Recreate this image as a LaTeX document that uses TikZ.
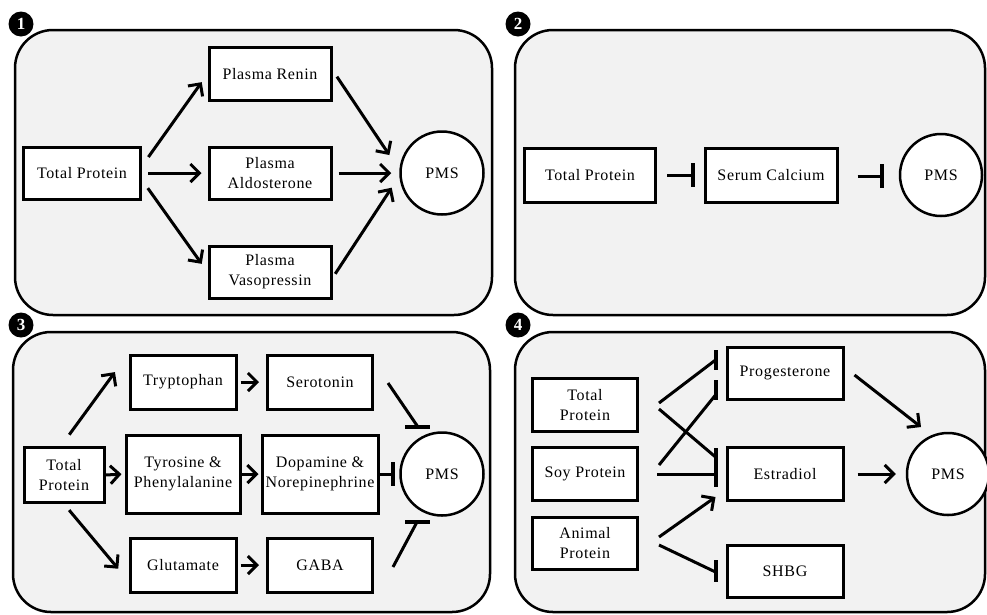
\documentclass[tikz,border=0pt]{standalone}
\usepackage{fontspec}
\setmainfont[LetterSpace=4]{Liberation Serif}
\usetikzlibrary{arrows.meta,calc}

\tikzset{
  panel/.style={draw=black, line width=2.5pt, fill=black!5, rounded corners=38pt},
  boxnode/.style={draw=black, line width=3pt, fill=white, rectangle, align=center,
                  inner sep=0pt, font=\fontsize{16}{20}\selectfont},
  pmsnode/.style={draw=black, line width=2.5pt, fill=white, circle, inner sep=0pt,
                  minimum size=83pt, font=\fontsize{16}{20}\selectfont},
  marker/.style={circle, fill=black, inner sep=0pt, minimum size=25pt, text=white,
                 font=\fontsize{17}{17}\selectfont\bfseries},
  arr/.style={line width=3pt, -{Straight Barb[length=9pt, width=18pt, line width=3pt]}},
  inh/.style={line width=3pt, -{Bar[width=24pt, line width=4pt]}},
  link/.style={line width=3pt},
  tbar/.style={line width=4pt}
}

\begin{document}
\begin{tikzpicture}[x=1pt, y=-1pt]
\useasboundingbox (0,0) rectangle (987,614);

% ---- panel frames
\draw[panel] (15,30) rectangle (492,315);
\draw[panel] (515,30) rectangle (985,315);
\draw[panel] (13,332) rectangle (490,612);
\draw[panel] (515,332) rectangle (985,612);

\node[marker] (m1) at (21,24) {1};
\node[marker] (m2) at (518,24) {2};
\node[marker] (m3) at (21,325) {3};
\node[marker] (m4) at (518,325) {4};

% ---- panel 1: renin / aldosterone / vasopressin
\node[boxnode, minimum width=117pt, minimum height=52pt] (tpA) at (82,173) {Total Protein};
\node[boxnode, minimum width=122pt, minimum height=53pt] (renin) at (270,74) {Plasma Renin};
\node[boxnode, minimum width=122pt, minimum height=52pt] (aldo) at (270,173) {Plasma\\Aldosterone};
\node[boxnode, minimum width=122pt, minimum height=52pt] (vaso) at (270,272) {Plasma\\Vasopressin};
\node[pmsnode] (pmsA) at (442,173) {PMS};

\draw[arr, shorten <=11pt, shorten >=10pt] ($(tpA.east)+(0,-7)$) -- (renin.west);
\draw[arr, shorten <=6pt, shorten >=6pt] (tpA.east) -- (aldo.west);
\draw[arr, shorten <=10pt, shorten >=10pt] ($(tpA.east)+(0,7)$) -- (vaso.west);
\draw[arr, shorten <=8pt, shorten >=18pt] ($(renin.east)+(0,-4)$) -- (pmsA.176);
\draw[arr, shorten <=6pt, shorten >=8pt] (aldo.east) -- (pmsA.west);
\draw[arr, shorten <=5pt, shorten >=14pt] ($(vaso.east)+(0,6)$) -- (pmsA.184);

% ---- panel 2: serum calcium
\node[boxnode, minimum width=131pt, minimum height=54pt] (tpB) at (590,175) {Total Protein};
\node[boxnode, minimum width=132pt, minimum height=54pt] (calc) at (771,175) {Serum Calcium};
\node[pmsnode, minimum size=82pt] (pmsB) at (941,175) {PMS};

\draw[inh, shorten <=10pt, shorten >=9pt] (tpB.east) -- (calc.west);
\draw[inh, shorten <=19pt, shorten >=15pt] ($(calc.east)+(0,1)$) -- ($(pmsB.west)+(0,1)$);

% ---- panel 3: amino acids and neurotransmitters
\node[boxnode, minimum width=80pt, minimum height=55pt] (tpC) at (64,475) {Total\\Protein};
\node[boxnode, minimum width=106pt, minimum height=54pt] (tryp) at (183,382) {Tryptophan};
\node[boxnode, minimum width=105pt, minimum height=54pt] (sero) at (320,382) {Serotonin};
\node[boxnode, minimum width=114pt, minimum height=78pt] (tyro) at (183,474) {Tyrosine \&\\Phenylalanine};
\node[boxnode, minimum width=116pt, minimum height=78pt] (dopa) at (320,474) {Dopamine \&\\Norepinephrine};
\node[boxnode, minimum width=106pt, minimum height=54pt] (glut) at (183,565) {Glutamate};
\node[boxnode, minimum width=105pt, minimum height=54pt] (gaba) at (320,565) {GABA};
\node[pmsnode] (pmsC) at (442,474) {PMS};

\draw[arr, shorten <=14pt, shorten >=23pt] ($(tpC.north)+(-3,0)$) -- (tryp.north west);
\draw[arr, shorten >=3pt] (tpC.east) -- (tyro.west);
\draw[arr, shorten <=8pt, shorten >=16pt] (tpC.south) -- ($(glut.west)+(0,16)$);
\draw[arr, shorten <=3pt, shorten >=7pt] (tryp.east) -- (sero.west);
\draw[arr, shorten >=2pt] (tyro.east) -- (dopa.west);
\draw[arr, shorten <=3pt, shorten >=7pt] (glut.east) -- (gaba.west);

\coordinate (barS) at ($(pmsC.center)+(-24,-47)$);
\coordinate (barG) at ($(pmsC.center)+(-25,48)$);
\draw[link] ($(sero.east)+(14,1)$) -- (barS);
\draw[tbar] ($(barS)+(-13,0)$) -- ($(barS)+(12,0)$);
\draw[inh, shorten >=4pt] (dopa.east) -- (pmsC.west);
\draw[link] ($(gaba.east)+(19,2)$) -- (barG);
\draw[tbar] ($(barG)+(-12,0)$) -- ($(barG)+(13,0)$);

% ---- panel 4: protein sources and sex hormones
\node[boxnode, minimum width=105pt, minimum height=53pt] (tpD) at (585,405) {Total\\Protein};
\node[boxnode, minimum width=105pt, minimum height=53pt] (soy) at (585,474) {Soy Protein};
\node[boxnode, minimum width=105pt, minimum height=52pt] (ani) at (585,543) {Animal\\Protein};
\node[boxnode, minimum width=116pt, minimum height=52pt] (prog) at (785,373) {Progesterone};
\node[boxnode, minimum width=116pt, minimum height=53pt] (estr) at (785,474) {Estradiol};
\node[boxnode, minimum width=116pt, minimum height=52pt] (shbg) at (785,571) {SHBG};
\node[pmsnode, minimum size=82pt] (pmsD) at (948,474) {PMS};

% inhibition ends, each on a vertical bar in front of its target
\coordinate (pTop) at ($(prog.west)+(-10,-13)$);
\coordinate (pBot) at ($(prog.west)+(-10,22)$);
\coordinate (eTop) at ($(estr.west)+(-10,-17)$);
\coordinate (eMid) at ($(estr.west)+(-10,0)$);
\coordinate (eLow) at ($(estr.west)+(-10,23)$);
\coordinate (sMid) at ($(shbg.west)+(-10,1)$);

\draw[link] ($(tpD.east)+(20,-2)$) -- (pTop);
\draw[link] ($(soy.east)+(20,-9)$) -- (pBot);
\draw[link] ($(tpD.east)+(20,4)$) -- (eTop);
\draw[link] ($(soy.east)+(18,0)$) -- (eMid);
\draw[arr] ($(ani.east)+(20,-6)$) -- (eLow);
\draw[link] ($(ani.east)+(20,2)$) -- (sMid);

\draw[tbar] ($(prog.west)+(-10,-23)$) -- ($(prog.west)+(-10,-3)$);
\draw[tbar] ($(prog.west)+(-10,7)$) -- ($(prog.west)+(-10,27)$);
\draw[tbar] ($(estr.west)+(-10,-26)$) -- ($(estr.west)+(-10,13)$);
\draw[tbar] ($(shbg.west)+(-10,-11)$) -- ($(shbg.west)+(-10,11)$);

\draw[arr] ($(prog.east)+(10,2)$) -- ($(pmsD.center)+(-27,-47)$);
\draw[arr, shorten <=13pt, shorten >=10pt] (estr.east) -- (pmsD.west);
\end{tikzpicture}
\end{document}
